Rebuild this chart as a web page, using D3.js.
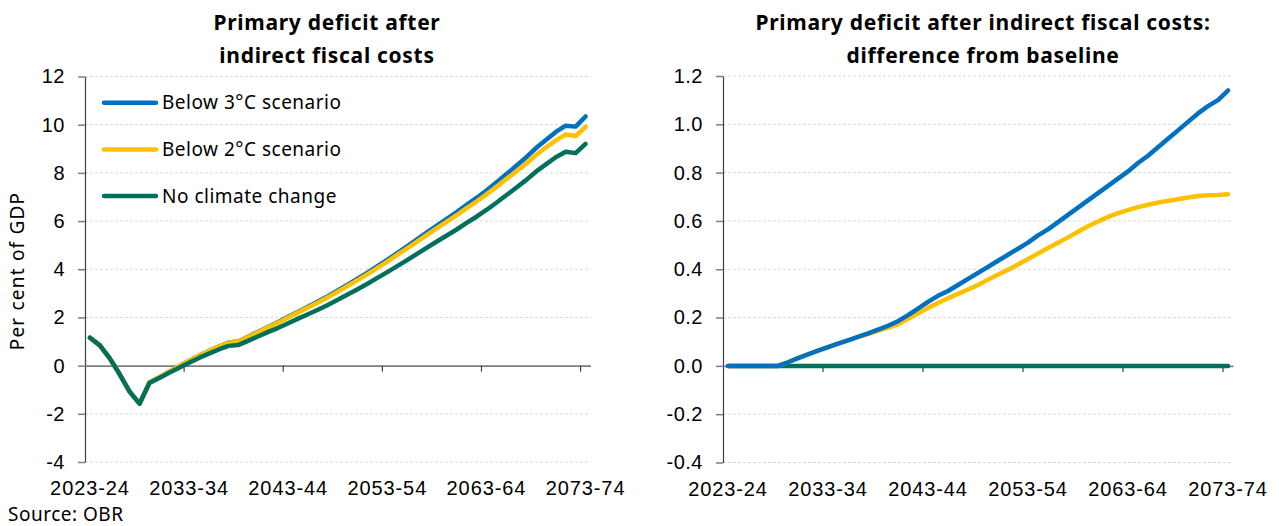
<!DOCTYPE html>
<html>
<head>
<meta charset="utf-8">
<script src="https://cdn.jsdelivr.net/npm/d3@7"></script>
<style>
  body { margin: 0; background: #fff; }
  svg { display: block; font-family: "Noto Sans", "DejaVu Sans", sans-serif; }
  .axis text { fill: #000; }
</style>
</head>
<body>
<div id="chart"></div>
<script>
// Years (categories)
var years = ["2023-24","2024-25","2025-26","2026-27","2027-28","2028-29","2029-30","2030-31","2031-32","2032-33",
  "2033-34","2034-35","2035-36","2036-37","2037-38","2038-39","2039-40","2040-41","2041-42","2042-43",
  "2043-44","2044-45","2045-46","2046-47","2047-48","2048-49","2049-50","2050-51","2051-52","2052-53",
  "2053-54","2054-55","2055-56","2056-57","2057-58","2058-59","2059-60","2060-61","2061-62","2062-63",
  "2063-64","2064-65","2065-66","2066-67","2067-68","2068-69","2069-70","2070-71","2071-72","2072-73",
  "2073-74"];
var xTickLabels = ["2023-24","2033-34","2043-44","2053-54","2063-64","2073-74"];

// Left panel: primary deficit after indirect fiscal costs (% GDP)
var below3 = [1.16,0.84,0.30,-0.36,-1.08,-1.58,-0.70,-0.48,-0.25,-0.03,
  0.20,0.41,0.61,0.79,0.96,1.01,1.21,1.41,1.61,1.81,
  2.03,2.24,2.44,2.66,2.88,3.12,3.36,3.61,3.86,4.13,
  4.39,4.67,4.95,5.24,5.53,5.81,6.09,6.37,6.67,6.96,
  7.27,7.60,7.94,8.29,8.64,9.03,9.36,9.70,9.96,9.92,
  10.34];
var below2 = [1.16,0.84,0.30,-0.36,-1.08,-1.58,-0.70,-0.48,-0.25,-0.03,
  0.20,0.41,0.61,0.79,0.95,1.01,1.20,1.39,1.60,1.79,
  2.00,2.21,2.41,2.62,2.84,3.07,3.31,3.55,3.80,4.06,
  4.32,4.60,4.87,5.15,5.43,5.71,5.98,6.25,6.54,6.81,
  7.11,7.42,7.74,8.06,8.38,8.74,9.05,9.35,9.59,9.53,
  9.91];
var noClimate = [1.16,0.84,0.30,-0.36,-1.08,-1.58,-0.72,-0.51,-0.30,-0.09,
  0.12,0.32,0.50,0.67,0.82,0.86,1.04,1.22,1.40,1.57,
  1.76,1.95,2.13,2.32,2.52,2.73,2.95,3.17,3.40,3.64,
  3.88,4.13,4.38,4.64,4.90,5.15,5.40,5.65,5.92,6.18,
  6.46,6.76,7.07,7.38,7.70,8.05,8.35,8.65,8.88,8.82,
  9.20];

// Right panel: difference from baseline (% GDP)
var diffBelow3 = [0,0,0,0,0,0,0.015,0.032,0.048,0.063,
  0.078,0.092,0.106,0.12,0.135,0.15,0.166,0.185,0.21,0.237,
  0.265,0.29,0.31,0.335,0.36,0.385,0.41,0.435,0.46,0.485,
  0.51,0.54,0.565,0.595,0.625,0.655,0.685,0.715,0.745,0.775,
  0.805,0.84,0.87,0.905,0.94,0.975,1.01,1.045,1.075,1.10,
  1.14];
var diffBelow2 = [0,0,0,0,0,0,0.015,0.032,0.048,0.063,
  0.078,0.092,0.106,0.12,0.132,0.145,0.158,0.172,0.195,0.218,
  0.24,0.26,0.28,0.298,0.316,0.335,0.357,0.378,0.398,0.42,
  0.442,0.465,0.488,0.51,0.532,0.555,0.578,0.598,0.617,0.632,
  0.645,0.657,0.667,0.676,0.683,0.69,0.697,0.703,0.706,0.707,
  0.71];
var diffNoClimate = [0,0,0,0,0,0,0,0,0,0,
  0,0,0,0,0,0,0,0,0,0,
  0,0,0,0,0,0,0,0,0,0,
  0,0,0,0,0,0,0,0,0,0,
  0,0,0,0,0,0,0,0,0,0,
  0];

var seriesNames = ["Below 3\u00B0C scenario", "Below 2\u00B0C scenario", "No climate change"];
var colors = ["#0070c0", "#ffc000", "#006f5b"];
var leftTicks = [-4,-2,0,2,4,6,8,10,12];
var rightTicks = [-0.4,-0.2,0,0.2,0.4,0.6,0.8,1.0,1.2];

var w = 1279, h = 526;
var svg = d3.select("#chart").append("svg")
  .attr("width", w).attr("height", h);

function hyphen(f) {
  return function(d) { return f(d).replace("\u2212", "-"); };
}

function panel(opt) {
  var x = d3.scaleBand().domain(years).range([opt.x0, opt.x1]).paddingInner(0).paddingOuter(0);
  var y = d3.scaleLinear().domain(opt.domain).range([opt.yBottom, opt.yTop]);
  var g = svg.append("g");

  // gridlines
  g.append("g").selectAll("line")
    .data(opt.ticks.filter(function(t) { return t !== 0; }))
    .enter().append("line")
    .attr("x1", opt.x0).attr("x2", opt.x1)
    .attr("y1", function(d) { return y(d); }).attr("y2", function(d) { return y(d); })
    .attr("stroke", "#d9d9d9").attr("stroke-width", 1).attr("stroke-dasharray", "3,2");

  // y axis
  var yAxis = d3.axisLeft(y).tickValues(opt.ticks).tickSize(7).tickSizeOuter(0).tickPadding(13)
    .tickFormat(hyphen(opt.fmt));
  var ya = g.append("g").attr("class", "axis")
    .attr("transform", "translate(" + opt.x0 + ",0)")
    .call(yAxis);
  ya.select(".domain").attr("stroke", "#404040").attr("stroke-width", 1.2);
  ya.selectAll(".tick line").attr("stroke", "#7f7f7f").attr("stroke-width", 1.5);
  ya.selectAll("text").attr("font-size", "20px").attr("letter-spacing", "0.5px");

  // zero line with tick marks every ten years
  var tickYears = years.filter(function(d, i) { return i > 0 && i % 10 === 0; });
  var za = g.append("g")
    .attr("transform", "translate(0," + y(0) + ")")
    .call(d3.axisBottom(x).tickValues(tickYears).tickSize(6).tickSizeOuter(0).tickFormat(""));
  za.select(".domain").attr("stroke", "#7f7f7f").attr("stroke-width", 1.6);
  za.selectAll(".tick").attr("transform", function(d) { return "translate(" + x(d) + ",0)"; });
  za.selectAll(".tick line").attr("stroke", "#404040").attr("stroke-width", 1.2);

  // x labels along the bottom
  var xa = g.append("g").attr("class", "axis")
    .attr("transform", "translate(0," + (opt.yBottom + 16) + ")")
    .call(d3.axisBottom(x).tickValues(xTickLabels).tickSize(0).tickPadding(3));
  xa.select(".domain").remove();
  xa.selectAll("text").attr("font-size", "20px").attr("letter-spacing", "0.9px");

  // lines
  var line = d3.line()
    .x(function(d, i) { return x(years[i]) + x.bandwidth() / 2; })
    .y(function(d) { return y(d); });
  opt.order.forEach(function(k) {
    g.append("path")
      .datum(opt.series[k])
      .attr("fill", "none")
      .attr("stroke", colors[k])
      .attr("stroke-width", 4.5)
      .attr("stroke-linejoin", "round")
      .attr("stroke-linecap", "round")
      .attr("d", line);
  });

  // title
  var t = g.append("text")
    .attr("x", opt.titleX).attr("y", 30)
    .attr("text-anchor", "middle")
    .attr("font-size", "21px").attr("font-weight", "bold")
    .attr("letter-spacing", "0.7px");
  opt.title.forEach(function(s, i) {
    t.append("tspan").attr("x", opt.titleX).attr("dy", i === 0 ? 0 : 33).text(s);
  });
  return g;
}

panel({
  x0: 85, x1: 590.5, yTop: 76.5, yBottom: 462, domain: [-4, 12],
  ticks: leftTicks, fmt: d3.format("d"),
  series: [below3, below2, noClimate], order: [0, 1, 2],
  title: ["Primary deficit after", "indirect fiscal costs"], titleX: 327
});

panel({
  x0: 723, x1: 1233, yTop: 76, yBottom: 462.5, domain: [-0.4, 1.2],
  ticks: rightTicks, fmt: d3.format(".1f"),
  series: [diffBelow3, diffBelow2, diffNoClimate], order: [2, 1, 0],
  title: ["Primary deficit after indirect fiscal costs:", "difference from baseline"], titleX: 983
});

// legend
var legend = svg.append("g");
seriesNames.forEach(function(name, i) {
  var ly = 102.7 + i * 46.7;
  legend.append("line")
    .attr("x1", 104).attr("x2", 156).attr("y1", ly).attr("y2", ly)
    .attr("stroke", colors[i]).attr("stroke-width", 4.5).attr("stroke-linecap", "round");
  legend.append("text")
    .attr("x", 162).attr("y", ly).attr("dy", "0.35em")
    .attr("font-size", "19px").attr("letter-spacing", "0.5px")
    .text(name);
});

// y axis title
svg.append("text")
  .attr("transform", "translate(24,271) rotate(-90)")
  .attr("text-anchor", "middle")
  .attr("font-size", "19px").attr("letter-spacing", "1.2px")
  .text("Per cent of GDP");

// source
svg.append("text")
  .attr("x", 8).attr("y", 521)
  .attr("font-size", "19px").attr("letter-spacing", "0.5px")
  .text("Source: OBR");
</script>
</body>
</html>
